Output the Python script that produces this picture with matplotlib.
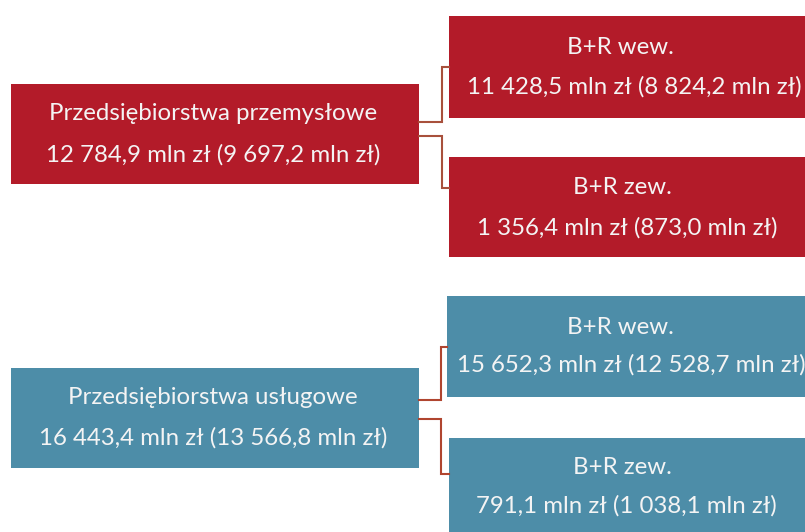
import matplotlib
matplotlib.use("Agg")
import matplotlib.pyplot as plt
from matplotlib.patches import Rectangle

# Data
groups = ["Przedsiębiorstwa przemysłowe", "Przedsiębiorstwa usługowe"]
group_values = ["12 784,9 mln zł (9 697,2 mln zł)", "16 443,4 mln zł (13 566,8 mln zł)"]
child_labels = ["B+R wew.", "B+R zew."]
child_values = [
    ["11 428,5 mln zł (8 824,2 mln zł)", "1 356,4 mln zł (873,0 mln zł)"],
    ["15 652,3 mln zł (12 528,7 mln zł)", "791,1 mln zł (1 038,1 mln zł)"],
]
colors = ["#B31B29", "#4D8DA8"]
line_colors = ["#A8503C", "#B0452F"]

W, H = 805, 532
fig = plt.figure(figsize=(W / 100, H / 100), dpi=100)
ax = fig.add_axes([0, 0, 1, 1])
ax.set_xlim(0, W)
ax.set_ylim(H, 0)
ax.axis("off")

FONT = "Lato"
FS = 17.3
TXT = "#F4F4F4"

layout = [
    dict(parent=(11, 419, 84, 184), children=[(449, 820, 16, 118), (449, 820, 157, 257)],
         conn_x=442, conn_y=[(122, 67), (136, 188)], child_tx=[620, 634, 622, 627]),
    dict(parent=(11, 419, 368, 468), children=[(447, 820, 296, 397), (449, 820, 438, 545)],
         conn_x=441, conn_y=[(400, 347), (419, 474)], child_tx=[620, 631, 622, 626]),
]
child_text_y = [[(47, 87), (188, 228)], [(328, 365), (468, 506)]]
parent_text_y = [(114, 155), (397, 438)]

for gi, lay in enumerate(layout):
    c = colors[gi]
    x0, x1, y0, y1 = lay["parent"]
    ax.add_patch(Rectangle((x0, y0), x1 - x0, y1 - y0, facecolor=c, edgecolor="none"))
    ax.text((x0 + x1) / 2 - 2, parent_text_y[gi][0], groups[gi], color=TXT, ha="center",
            va="center", fontsize=FS, family=FONT)
    ax.text((x0 + x1) / 2 - 2, parent_text_y[gi][1], group_values[gi], color=TXT, ha="center",
            va="center", fontsize=FS, family=FONT)
    for ci, (cx0, cx1, cy0, cy1) in enumerate(lay["children"]):
        ax.add_patch(Rectangle((cx0, cy0), cx1 - cx0, cy1 - cy0, facecolor=c, edgecolor="none"))
        ya, yb = lay["conn_y"][ci]
        ax.plot([x1, lay["conn_x"], lay["conn_x"], cx0], [ya, ya, yb, yb],
                color=line_colors[gi], lw=1.5, solid_joinstyle="miter")
        ax.text(lay["child_tx"][2 * ci], child_text_y[gi][ci][0], child_labels[ci], color=TXT,
                ha="center", va="center", fontsize=FS, family=FONT)
        ax.text(lay["child_tx"][2 * ci + 1], child_text_y[gi][ci][1], child_values[gi][ci],
                color=TXT, ha="center", va="center", fontsize=FS, family=FONT)

fig.savefig("out.png", dpi=100)
